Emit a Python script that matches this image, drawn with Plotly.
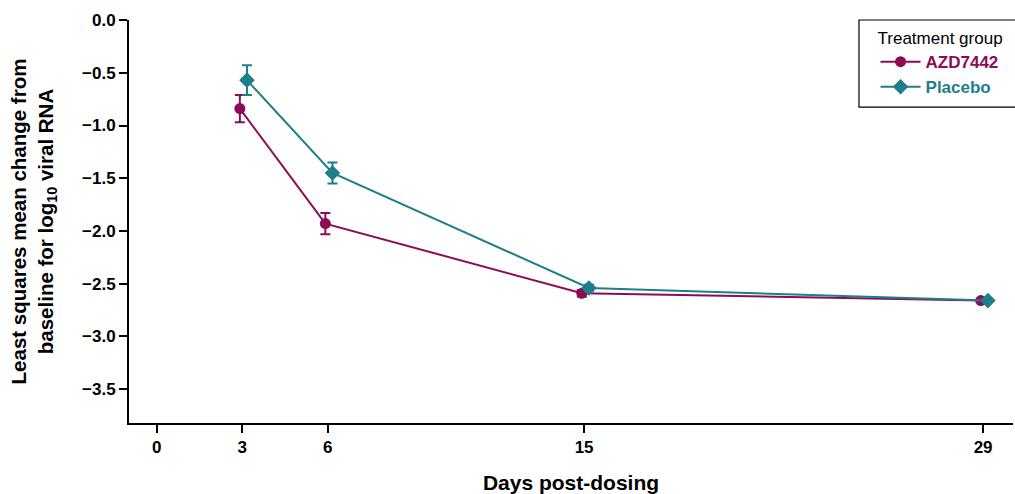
import plotly.graph_objects as go

days = [3, 6, 15, 29]
tick_vals = [0, 3, 6, 15, 29]
y_ticks = [0.0, -0.5, -1.0, -1.5, -2.0, -2.5, -3.0, -3.5]

azd_mean = [-0.84, -1.93, -2.59, -2.66]
azd_err = [0.13, 0.10, 0.03, 0.01]
pbo_mean = [-0.57, -1.45, -2.54, -2.66]
pbo_err = [0.14, 0.10, 0.03, 0.01]

AZD_COLOR = "#8B0D55"
PBO_COLOR = "#1E7E8A"
azd_shift = -0.08
pbo_shift = 0.17

fig = go.Figure()
fig.add_trace(go.Scatter(
    x=[d + azd_shift for d in days], y=azd_mean,
    mode="lines+markers",
    name=f"<span style='color:{AZD_COLOR}'><b>AZD7442</b></span>",
    line=dict(color=AZD_COLOR, width=2),
    marker=dict(symbol="circle", size=11, color=AZD_COLOR),
    error_y=dict(type="data", array=azd_err, color=AZD_COLOR, thickness=2, width=5),
))
fig.add_trace(go.Scatter(
    x=[d + pbo_shift for d in days], y=pbo_mean,
    mode="lines+markers",
    name=f"<span style='color:{PBO_COLOR}'><b>Placebo</b></span>",
    line=dict(color=PBO_COLOR, width=2),
    marker=dict(symbol="diamond", size=12, color=PBO_COLOR),
    error_y=dict(type="data", array=pbo_err, color=PBO_COLOR, thickness=2, width=5),
))

# legend frame
fig.add_shape(type="rect", xref="paper", yref="paper",
              x0=0.8258, x1=1.03, y0=0.784, y1=1.0,
              line=dict(color="black", width=1.2), fillcolor="rgba(0,0,0,0)", layer="above")

fig.update_layout(
    width=1015, height=494,
    margin=dict(l=129, r=2, t=20, b=71, autoexpand=False),
    paper_bgcolor="white", plot_bgcolor="white",
    font=dict(family="Liberation Sans, Arial, sans-serif", color="black"),
    legend=dict(
        title=dict(text="Treatment group", font=dict(size=17, color="black")),
        orientation="v",
        x=0.8445, xanchor="left", y=0.995, yanchor="top",
        borderwidth=0, bgcolor="rgba(0,0,0,0)",
        font=dict(size=17), tracegroupgap=0, itemwidth=40,
    ),
    xaxis=dict(
        range=[-0.97, 30.05], tickvals=tick_vals, ticktext=[f"<b>{t}</b>" for t in tick_vals],
        showline=True, linecolor="black", linewidth=2, ticks="outside", ticklen=8,
        tickwidth=2, tickcolor="black", showgrid=False, zeroline=False, automargin=False,
        tickfont=dict(family="Liberation Sans Narrow, Liberation Sans, Arial", size=17),
        title=dict(text="<b>Days post-dosing</b>", font=dict(size=21), standoff=22),
    ),
    yaxis=dict(
        range=[-3.82, 0.0], tickvals=y_ticks,
        ticktext=[f"<b>{v:.1f}</b>".replace("-", "\u2212") for v in y_ticks],
        showline=True, linecolor="black", linewidth=2, ticks="outside", ticklen=8,
        tickwidth=2, tickcolor="black", showgrid=False, zeroline=False, automargin=False,
        tickfont=dict(size=17),
        title=dict(text="<b>Least squares mean change from<br>baseline for log<sub>10</sub> viral RNA</b>",
                   font=dict(size=20.5), standoff=23),
    ),
)

fig.write_html("out.html", config={"displayModeBar": False},
               post_script="document.body.style.margin='0';document.body.style.overflow='hidden';")
